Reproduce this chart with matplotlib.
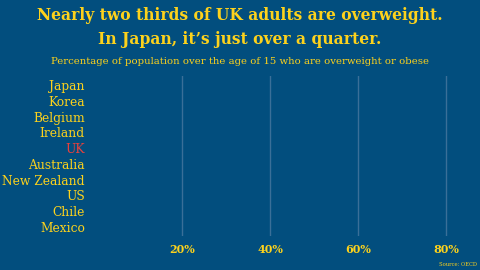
import matplotlib
matplotlib.use("Agg")
import matplotlib.pyplot as plt

# data (bars are at zero in this frame)
countries = ["Japan", "Korea", "Belgium", "Ireland", "UK",
             "Australia", "New Zealand", "US", "Chile", "Mexico"]
values = [0, 0, 0, 0, 0, 0, 0, 0, 0, 0]
xticks = [20, 40, 60, 80]
xtick_labels = ["20%", "40%", "60%", "80%"]

BG = "#024e7e"
YELLOW = "#fdd21c"
RED = "#e8413c"
GRID = "#3a6f98"

plt.rcParams["font.family"] = ["DejaVu Serif"]

fig = plt.figure(figsize=(4.8, 2.7), dpi=100, facecolor=BG)
ax = fig.add_axes([94 / 480, 34 / 270, 374 / 480, 160 / 270], facecolor=BG)

ypos = list(range(len(countries)))
bar_colors = [RED if c == "UK" else YELLOW for c in countries]
ax.barh(ypos, values, height=0.7, color=bar_colors)

ax.set_xlim(0, 85)
ax.set_ylim(9.6, -0.6)
ax.set_xticks(xticks)
ax.set_xticklabels(xtick_labels)
ax.set_yticks(ypos)
ax.set_yticklabels(countries)
ax.grid(axis="x", color=GRID, linewidth=1)
ax.set_axisbelow(True)
for s in ax.spines.values():
    s.set_visible(False)
ax.tick_params(length=0)
ax.tick_params(axis="y", pad=6.5, labelsize=8.8, labelcolor=YELLOW)
ax.tick_params(axis="x", pad=6, labelsize=8, labelcolor=YELLOW)
for lab in ax.get_yticklabels():
    if lab.get_text() == "UK":
        lab.set_color(RED)
for lab in ax.get_xticklabels():
    lab.set_fontweight("bold")

fig.text(0.5, 1 - 16 / 270, "Nearly two thirds of UK adults are overweight.",
         ha="center", va="center", color=YELLOW, fontsize=11.2, fontweight="bold")
fig.text(0.5, 1 - 40 / 270, "In Japan, it\u2019s just over a quarter.",
         ha="center", va="center", color=YELLOW, fontsize=11.2, fontweight="bold")
fig.text(0.5, 1 - 62 / 270,
         "Percentage of population over the age of 15 who are overweight or obese",
         ha="center", va="center", color=YELLOW, fontsize=7.3)
fig.text(477 / 480, 1 - 264 / 270, "Source: OECD", ha="right", va="center",
         color=YELLOW, fontsize=3.8)

fig.savefig("out.png", dpi=100, facecolor=BG)
